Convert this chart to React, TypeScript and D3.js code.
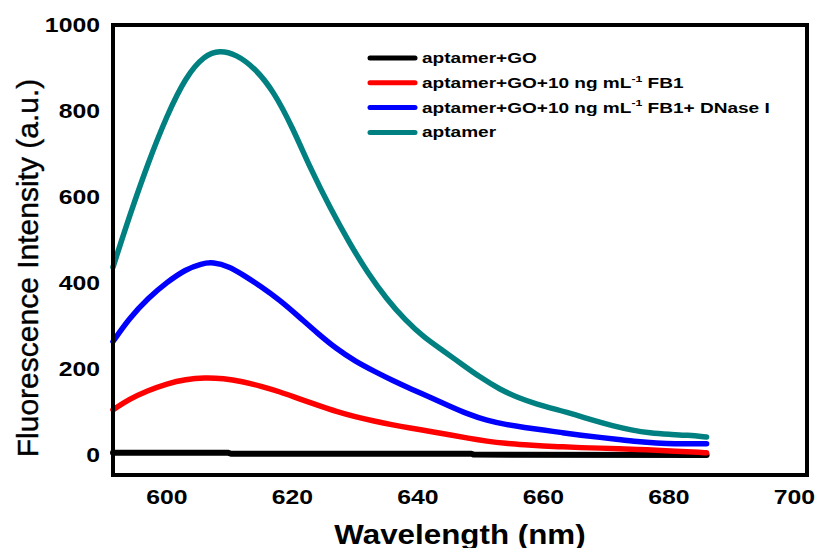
import React from "react";
import * as d3 from "d3";

const xTicks = [600, 620, 640, 660, 680, 700];
const yTicks = [0, 200, 400, 600, 800, 1000];

const legendLabels = [
  { main: "aptamer+GO", sup: "", tail: "" },
  { main: "aptamer+GO+10 ng mL", sup: "-1", tail: " FB1" },
  { main: "aptamer+GO+10 ng mL", sup: "-1", tail: " FB1+ DNase I" },
  { main: "aptamer", sup: "", tail: "" },
];
const seriesColors = ["#000000", "#ff0000", "#0000ff", "#008080"];

const blackWl = [591.4, 609.8, 610.2, 648.5, 648.9, 686];
const blackVal = [5, 5, 3, 3, 1, 0];

const redWl = [591.4, 594, 597, 600, 603, 606, 609, 612, 615, 618, 621, 624, 627, 630, 633, 636, 639, 642, 645, 648, 651, 654, 657, 660, 663, 666, 669, 672, 675, 678, 681, 684, 686];
const redVal = [105, 130, 150, 166, 176, 180, 178, 171, 160, 147, 131, 116, 101, 89, 79, 70, 62, 55, 47, 39, 32, 27, 24, 21, 19, 17, 16, 15, 13, 11, 9, 7, 5];

const blueWl = [591.4, 594, 597, 600, 603, 605.5, 607.3, 610, 612, 615, 618, 621, 624, 627, 630, 633, 636, 639, 642, 645, 648, 651, 654, 657, 660, 663, 666, 669, 672, 675, 678, 681, 684, 686];
const blueVal = [264, 318, 365, 402, 432, 445, 449, 438, 420, 392, 360, 322, 283, 247, 218, 195, 173, 153, 134, 114, 95, 80, 71, 64, 58, 52, 46, 41, 36, 31, 28, 26, 26, 26];

const tealWl = [591.4, 594, 597, 600, 603, 606, 608.4, 611, 614, 617, 620, 623, 626, 629, 632, 635, 638, 641, 644, 647, 650, 653, 656, 659, 662, 665, 668, 671, 674, 677, 680, 683, 686];
const tealVal = [437, 555, 680, 790, 880, 930, 941, 932, 900, 846, 762, 662, 575, 495, 423, 363, 313, 273, 243, 211, 180, 153, 133, 118, 106, 94, 80, 68, 58, 51, 48, 46, 42];

const seriesWl = [blackWl, redWl, blueWl, tealWl];
const seriesVal = [blackVal, redVal, blueVal, tealVal];

const W = 822;
const H = 548;
const left = 113, right = 807, top = 25, bottom = 475;
const FONT = "'Liberation Sans', Arial, Helvetica, sans-serif";

export default function App() {
  const x = d3.scaleLinear().domain([591.4, 702]).range([left, right]);
  const y = d3.scaleLinear().domain([-46.5, 1000]).range([bottom, top]);

  const paths = seriesWl.map((wl, i) => {
    const pts: [number, number][] = wl.map((w, j) => [w, seriesVal[i][j]]);
    const line = d3
      .line<[number, number]>()
      .x((d) => x(d[0]))
      .y((d) => y(d[1]))
      .curve(i === 0 ? d3.curveLinear : d3.curveBasis);
    return line(pts) || "";
  });

  const legX0 = 368, legX1 = 417, legY0 = 58, legDy = 24.8;

  return (
    <svg
      width={W}
      height={H}
      style={{ position: "absolute", left: 0, top: 0, background: "#fff" }}
      fontFamily={FONT}
    >
      <rect x={0} y={0} width={W} height={H} fill="#fff" />
      {paths.map((d, i) => (
        <path
          key={i}
          d={d}
          fill="none"
          stroke={seriesColors[i]}
          strokeWidth={i === 0 ? 6 : 5.5}
          strokeLinecap="round"
          strokeLinejoin="round"
        />
      ))}
      <rect
        x={left}
        y={top}
        width={right - left}
        height={bottom - top}
        fill="none"
        stroke="#000"
        strokeWidth={4}
      />
      {yTicks.map((t) => (
        <text
          key={t}
          transform={`translate(100,${y(t)}) scale(1.24,1)`}
          textAnchor="end"
          dy="0.36em"
          fontSize={20}
          fontWeight="bold"
        >
          {t}
        </text>
      ))}
      {xTicks.map((t) => (
        <text
          key={t}
          transform={`translate(${x(t)},497) scale(1.24,1)`}
          textAnchor="middle"
          dy="0.36em"
          fontSize={20}
          fontWeight="bold"
        >
          {t}
        </text>
      ))}
      <text
        transform={`translate(38,268) rotate(-90)`}
        textAnchor="middle"
        fontSize={30}
        stroke="#000"
        strokeWidth={0.4}
      >
        Fluorescence Intensity (a.u.)
      </text>
      <text
        transform={`translate(460,544) scale(1.12,1)`}
        textAnchor="middle"
        fontSize={28}
        fontWeight="bold"
      >
        Wavelength (nm)
      </text>
      {legendLabels.map((l, i) => {
        const ly = legY0 + i * legDy;
        return (
          <g key={i}>
            <line
              x1={legX0 + 2}
              x2={legX1 - 2}
              y1={ly}
              y2={ly}
              stroke={seriesColors[i]}
              strokeWidth={5}
              strokeLinecap="round"
            />
            <text
              transform={`translate(422,${ly}) scale(1.36,1)`}
              dy="0.36em"
              fontSize={14}
              fontWeight="bold"
            >
              {l.main}
              {l.sup ? (
                <tspan fontSize={9} dy="-0.7em">
                  {l.sup}
                </tspan>
              ) : null}
              {l.tail ? (
                <tspan dy={l.sup ? "0.45em" : 0}>{l.tail}</tspan>
              ) : null}
            </text>
          </g>
        );
      })}
    </svg>
  );
}
